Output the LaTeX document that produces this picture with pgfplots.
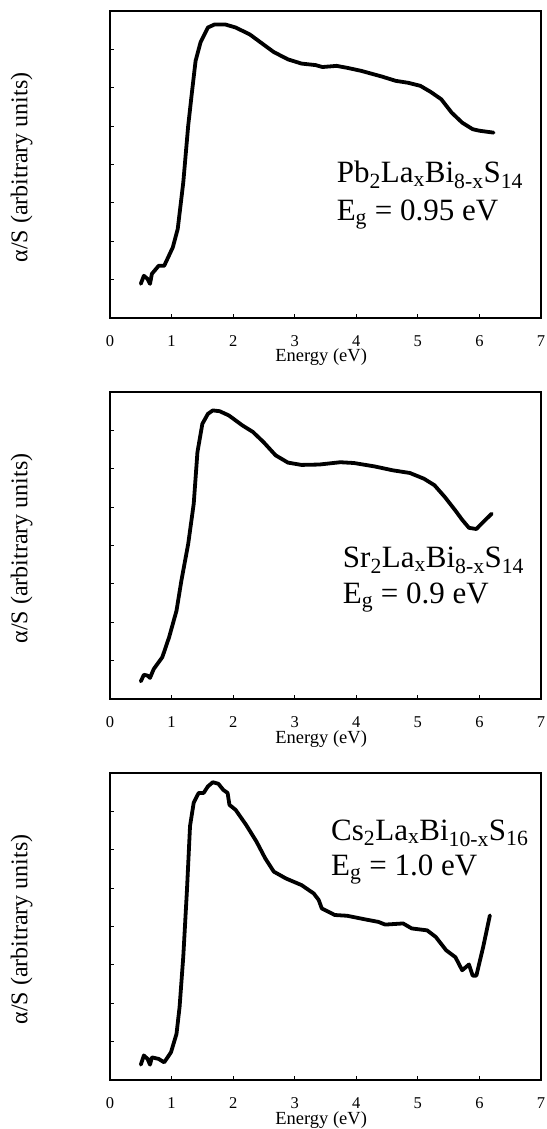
\documentclass[border=0pt]{standalone}
\usepackage{fontspec}
\setmainfont{Liberation Serif}
\usepackage{pgfplots}
\pgfplotsset{compat=1.18}

\pgfplotsset{
  panel/.style={
    scale only axis, width=431pt, height=307pt,
    xmin=0, xmax=7, ymin=0, ymax=8,
    xtick={0,...,7},
    xticklabel={\fontsize{16.5}{19}\selectfont\pgfmathprintnumber[assume math mode=true]{\tick}},
    ytick={1,...,7}, yticklabels={},
    xtick pos=bottom, ytick pos=left, tick align=inside,
    major tick length=4pt,
    axis line style={line width=1.2pt}, tick style={line width=0.9pt, black},
    xticklabel style={anchor=north, inner sep=0pt, yshift=-17pt},
    xlabel={Energy (eV)},
    xlabel style={font=\fontsize{18.5}{21}\selectfont, at={(axis description cs:0.49,0)}, anchor=base, inner sep=0pt, yshift=-44pt},
    ylabel={α/S (arbitrary units)},
    ylabel style={font=\fontsize{24}{26}\selectfont, at={(axis description cs:-0.205,0.49)}, anchor=center},
  },
  curve/.style={black, line width=3.8pt, line join=round, line cap=round, no marks},
}
% annotation text, placed by its baseline
\tikzset{ann/.style={anchor=base west, inner sep=0pt, font=\fontsize{31}{36}\selectfont}}

\begin{document}
\begin{tikzpicture}
\path (-110pt,11pt) rectangle (436pt,-1118pt);

% Pb2LaxBi8-xS14
\begin{axis}[panel, at={(0,0)}, anchor=north west]
\addplot[curve] coordinates {
(0.50,0.89) (0.55,1.10) (0.61,1.02) (0.65,0.89) (0.68,1.15) (0.79,1.36) (0.88,1.36)
(1.02,1.84) (1.10,2.32) (1.19,3.53) (1.27,5.01) (1.33,5.87) (1.39,6.70) (1.47,7.18)
(1.59,7.57) (1.70,7.65) (1.87,7.65) (2.04,7.57) (2.27,7.39) (2.49,7.13) (2.66,6.93)
(2.89,6.74) (3.11,6.63) (3.34,6.59) (3.45,6.54) (3.68,6.57) (3.85,6.52) (4.08,6.44)
(4.42,6.29) (4.64,6.18) (4.84,6.13) (5.04,6.05) (5.21,5.89) (5.38,5.70) (5.55,5.35)
(5.72,5.09) (5.89,4.92) (6.00,4.88) (6.23,4.83)};
\node[ann] at (axis cs:3.68,3.53) {Pb\textsubscript{2}La\textsubscript{x}Bi\textsubscript{8-x}S\textsubscript{14}};
\node[ann] at (axis cs:3.68,2.53) {E\textsubscript{g} = 0.95 eV};
\end{axis}

% Sr2LaxBi8-xS14
\begin{axis}[panel, at={(0,-381pt)}, anchor=north west]
\addplot[curve] coordinates {
(0.50,0.46) (0.55,0.63) (0.61,0.61) (0.65,0.55) (0.71,0.78) (0.85,1.09) (0.96,1.61)
(1.08,2.30) (1.16,3.09) (1.27,4.04) (1.36,5.09) (1.42,6.43) (1.50,7.17) (1.59,7.43)
(1.67,7.52) (1.78,7.50) (1.93,7.39) (2.15,7.13) (2.32,6.96) (2.49,6.70) (2.69,6.35)
(2.89,6.16) (3.11,6.10) (3.40,6.11) (3.74,6.17) (3.96,6.15) (4.30,6.06) (4.59,5.96)
(4.87,5.89) (5.10,5.74) (5.27,5.57) (5.44,5.26) (5.61,4.91) (5.72,4.67) (5.83,4.46)
(5.95,4.43) (6.06,4.61) (6.20,4.83)};
\node[ann] at (axis cs:3.78,3.43) {Sr\textsubscript{2}La\textsubscript{x}Bi\textsubscript{8-x}S\textsubscript{14}};
\node[ann] at (axis cs:3.78,2.48) {E\textsubscript{g} = 0.9 eV};
\end{axis}

% Cs2LaxBi10-xS16
\begin{axis}[panel, at={(0,-762pt)}, anchor=north west]
\addplot[curve] coordinates {
(0.50,0.40) (0.55,0.64) (0.61,0.55) (0.65,0.40) (0.68,0.59) (0.79,0.55) (0.88,0.46)
(0.99,0.72) (1.08,1.20) (1.13,1.90) (1.19,3.21) (1.25,4.95) (1.30,6.62) (1.36,7.23)
(1.44,7.48) (1.52,7.48) (1.59,7.65) (1.67,7.76) (1.76,7.72) (1.84,7.56) (1.91,7.48)
(1.94,7.17) (2.04,7.04) (2.21,6.65) (2.38,6.21) (2.52,5.78) (2.66,5.43) (2.86,5.25)
(3.11,5.08) (3.31,4.86) (3.39,4.69) (3.44,4.47) (3.65,4.30) (3.85,4.28) (4.13,4.19)
(4.36,4.12) (4.47,4.05) (4.76,4.08) (4.90,3.95) (5.15,3.90) (5.29,3.73) (5.46,3.38)
(5.61,3.20) (5.72,2.86) (5.83,3.01) (5.89,2.72) (5.95,2.72) (6.06,3.46) (6.17,4.29)};
\node[ann] at (axis cs:3.59,6.25) {Cs\textsubscript{2}La\textsubscript{x}Bi\textsubscript{10-x}S\textsubscript{16}};
\node[ann] at (axis cs:3.59,5.33) {E\textsubscript{g} = 1.0 eV};
\end{axis}
\end{tikzpicture}
\end{document}
